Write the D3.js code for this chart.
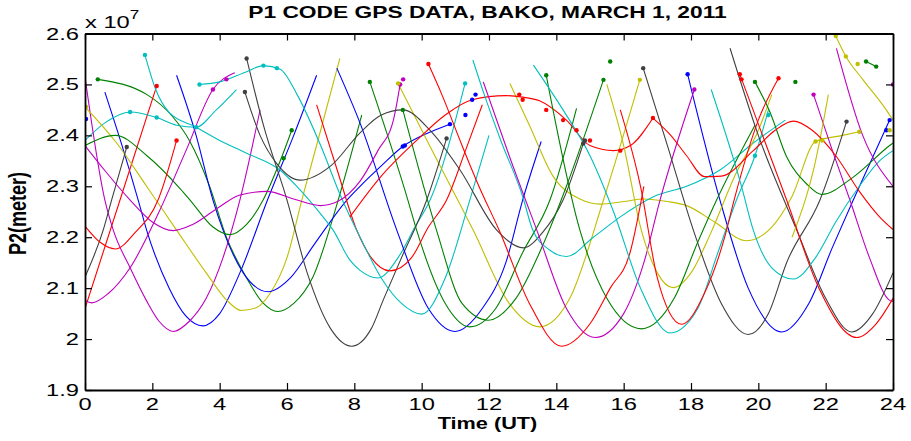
<!DOCTYPE html>
<html><head><meta charset="utf-8">
<script src="https://cdn.jsdelivr.net/npm/d3@7"></script>
<style>
body{margin:0;background:#fff}
svg{display:block}
text{font-family:"Liberation Sans",Arial,Helvetica,sans-serif;fill:#000}
</style>
</head><body>
<svg id="chart" width="911" height="441"></svg>
<script>
// ---- axis data ----
const xTicks = [0,2,4,6,8,10,12,14,16,18,20,22,24];
const yTicks = [1.9,2.0,2.1,2.2,2.3,2.4,2.5,2.6];
const yTickLabels = ["1.9","2","2.1","2.2","2.3","2.4","2.5","2.6"];
const titleText = "P1 CODE GPS DATA, BAKO, MARCH 1, 2011";
const xLabel = "Time (UT)";
const yLabel = "P2(meter)";

// MATLAB default line colours
const palette = {b:"#0000ff", g:"#008000", r:"#ff0000", c:"#00bfbf", m:"#bf00bf", y:"#bfbf00", k:"#404040"};

// ---- pass data: [time (UT hours), P2 (x 1e7 m)] ----
const magC = [[0,2.515],[0.59,2.273],[0.84,2.214],[1.34,2.14],[1.83,2.075],[2.2,2.035],[2.62,2.015],[3.1,2.035],[3.6,2.08],[4.1,2.16],[4.6,2.273],[5.2,2.45]];
const magB = [[0,2.076],[0.2,2.071],[0.7,2.09],[1.34,2.14],[2.2,2.25],[3.0,2.37],[3.8,2.49],[4.45,2.523]];
const magWave = [[0,2.38],[0.6,2.33],[1.34,2.273],[2.0,2.23],[2.62,2.213],[3.2,2.225],[4.0,2.26],[4.6,2.283],[5.4,2.29],[6.2,2.275],[7.0,2.262],[7.5,2.27],[8.17,2.31],[8.7,2.37],[9.16,2.43],[9.36,2.50]];
const redB = [[0,2.06],[1.04,2.273],[2.13,2.497]];
const redA = [[0,2.222],[0.45,2.19],[0.9,2.177],[1.5,2.21],[2.17,2.273],[2.72,2.39]];
const grayA = [[0,2.122],[0.54,2.214],[0.79,2.273],[1.24,2.377]];
const blueE = [[0.59,2.485],[1.1,2.38],[1.58,2.273],[1.83,2.214],[2.5,2.1],[3.0,2.045],[3.5,2.026],[4.0,2.05],[4.6,2.13],[5.42,2.273],[6.2,2.4],[6.88,2.518]];
const blueI = [[2.72,2.518],[3.3,2.4],[3.8,2.273],[4.1,2.214],[4.7,2.13],[5.44,2.093],[6.1,2.12],[6.8,2.185],[7.78,2.273],[8.17,2.30],[8.8,2.34],[9.44,2.378],[10.2,2.405],[10.84,2.422]];
const grayJ = [[4.8,2.551],[5.3,2.42],[6.0,2.273],[6.6,2.13],[7.3,2.02],[7.92,1.986],[8.5,2.02],[8.86,2.077],[9.37,2.155],[10.15,2.273],[10.74,2.394]];
const grayWave = [[4.75,2.485],[5.2,2.4],[5.69,2.345],[6.39,2.312],[7.3,2.34],[8.17,2.405],[8.8,2.44],[9.44,2.45],[10.25,2.41],[11.14,2.332],[12.23,2.214],[13.02,2.179],[13.6,2.21],[14.2,2.273],[14.8,2.384]];
const yellowF = [[0,2.456],[0.94,2.385],[1.83,2.30],[2.72,2.214],[3.6,2.13],[4.2,2.077],[4.65,2.056],[5.1,2.062],[5.5,2.09],[6.0,2.16],[6.44,2.273],[7.0,2.41],[7.57,2.551]];
const greenG = [[0,2.38],[0.9,2.40],[1.84,2.36],[2.83,2.295],[3.12,2.273],[3.8,2.22],[4.3,2.205],[4.8,2.225],[5.29,2.273],[5.8,2.35],[6.14,2.41]];
const greenH = [[0.38,2.51],[1.84,2.48],[2.6,2.437],[3.1,2.39],[3.7,2.3],[4.2,2.2],[4.8,2.12],[5.3,2.07],[5.72,2.054],[6.2,2.07],[6.77,2.122],[7.52,2.273],[8.22,2.44]];
const cyanWave1 = [[0,2.39],[0.6,2.425],[1.34,2.446],[2.13,2.435],[2.72,2.42],[3.3,2.416],[3.9,2.45],[4.5,2.49]];
const cyanWave2 = [[3.4,2.5],[4.0,2.505],[4.8,2.525],[5.3,2.537],[5.8,2.53],[6.3,2.48],[7.0,2.38],[7.6,2.28],[8.17,2.20],[8.8,2.12],[9.4,2.07],[10.0,2.049],[10.7,2.12],[11.43,2.273],[12.0,2.4]];
const cyanLong = [[1.78,2.558],[2.1,2.49],[2.5,2.445],[3.3,2.416],[4.0,2.39],[4.8,2.365],[5.79,2.332],[6.29,2.30],[7.07,2.24],[7.37,2.214],[7.87,2.155],[8.17,2.135],[8.71,2.12],[9.3,2.16],[9.8,2.22],[10.25,2.273],[11.29,2.502]];
const blueP = [[7.48,2.532],[8.17,2.424],[9.26,2.214],[10.2,2.06],[10.99,2.015],[11.8,2.06],[12.5,2.15],[13.0,2.273],[13.55,2.388]];
const greenQ1 = [[8.46,2.505],[9.59,2.273],[9.85,2.214],[10.7,2.07],[11.43,2.024],[12.2,2.06],[13.0,2.17],[13.81,2.273],[14.6,2.453]];
const greenQ2 = [[9.44,2.45],[10.44,2.214],[11.2,2.07],[11.98,2.037],[12.8,2.08],[13.7,2.2],[14.3,2.3],[15.4,2.509]];
const yellowT = [[9.3,2.502],[10.25,2.378],[11.53,2.214],[12.6,2.07],[13.51,2.024],[14.4,2.08],[15.4,2.273],[16.48,2.509]];
const redM = [[6.88,2.46],[7.5,2.33],[8.07,2.214],[8.5,2.16],[9.06,2.134],[9.7,2.16],[10.2,2.22],[10.74,2.273],[11.3,2.37],[11.8,2.46]];
const redHump = [[7.87,2.24],[8.8,2.32],[9.85,2.39],[10.7,2.44],[11.5,2.47],[12.5,2.478],[13.0,2.475],[13.5,2.468],[14.3,2.43],[15.0,2.38],[15.7,2.37],[16.2,2.38],[16.87,2.434]];
const redU = [[10.2,2.54],[10.6,2.48],[11.2,2.38],[11.7,2.3],[12.3,2.214],[13.2,2.07],[14.16,1.986],[15.0,2.03],[15.6,2.1],[16.19,2.17],[16.6,2.3]];
const magV = [[11.83,2.505],[12.6,2.36],[13.42,2.214],[14.3,2.06],[15.15,2.003],[16.0,2.05],[16.6,2.15],[17.08,2.273],[18.1,2.49]];
const yellowWave = [[12.62,2.502],[13.2,2.42],[13.9,2.32],[14.7,2.275],[15.3,2.265],[16.0,2.27],[16.6,2.275],[17.3,2.27],[17.87,2.262],[18.7,2.23],[19.65,2.193],[20.4,2.22],[21.0,2.28],[21.7,2.388],[22.5,2.40],[23.0,2.407]];
const greenX = [[13.7,2.518],[14.7,2.214],[15.5,2.08],[16.53,2.02],[17.5,2.08],[18.2,2.19],[18.76,2.273],[19.9,2.42]];
const cyanY = [[13.32,2.538],[14.2,2.45],[15.0,2.36],[15.7,2.25],[16.5,2.1],[17.38,2.012],[18.2,2.06],[18.8,2.17],[19.35,2.273],[19.9,2.36],[20.3,2.45]];
const cyanS = [[11.52,2.548],[11.88,2.476],[12.35,2.39],[13.0,2.28],[13.3,2.214],[13.8,2.175],[14.3,2.162],[15.1,2.2],[15.9,2.24],[16.9,2.28],[17.87,2.3],[18.86,2.332],[19.85,2.385],[20.8,2.43]];
const redZ = [[15.9,2.45],[16.5,2.3],[17.0,2.12],[17.72,2.029],[18.4,2.09],[19.0,2.2],[19.28,2.273],[20.0,2.43],[20.6,2.512]];
const yellowAA = [[15.5,2.5],[16.0,2.38],[16.5,2.22],[17.0,2.13],[17.47,2.101],[18.0,2.13],[18.6,2.21],[19.3,2.32],[20.0,2.41],[20.4,2.48]];
const grayCC = [[16.58,2.532],[17.3,2.38],[18.07,2.214],[18.9,2.07],[19.7,2.009],[20.3,2.05],[20.84,2.15],[21.83,2.273],[22.62,2.427]];
const blueDD = [[17.9,2.52],[18.86,2.273],[19.7,2.1],[20.69,2.014],[21.5,2.07],[22.2,2.18],[22.82,2.273],[23.9,2.43]];
const grayFF = [[19.16,2.571],[20.0,2.4],[21.14,2.214],[22.0,2.08],[22.77,2.014],[23.4,2.05],[24,2.13]];
const redGG = [[19.45,2.52],[20.84,2.273],[21.8,2.1],[22.92,2.003],[23.5,2.03],[24,2.08]];
const cyanEE = [[18.6,2.49],[19.5,2.3],[19.85,2.214],[20.4,2.14],[21.04,2.118],[21.7,2.16],[22.3,2.23],[23.0,2.3],[23.6,2.35],[24,2.37]];
const magR1 = [[21.64,2.48],[22.2,2.37],[22.72,2.273],[23.3,2.16],[23.9,2.076],[24,2.074]];
const magR2 = [[22.32,2.571],[23.1,2.4],[24,2.3]];
const yellowR1 = [[22.3,2.595],[22.6,2.555],[23.1,2.51],[23.8,2.45],[24,2.43]];
const yellowR2 = [[21.0,2.2],[21.7,2.35],[22.08,2.48]];
const greenWaveR = [[19.9,2.505],[20.35,2.445],[20.84,2.358],[21.43,2.305],[21.88,2.284],[22.82,2.318],[23.9,2.38],[24,2.385]];
const redWave2 = [[16.87,2.434],[17.4,2.40],[17.87,2.36],[18.4,2.319],[18.9,2.32],[19.85,2.37],[20.5,2.41],[21.04,2.428],[21.6,2.41],[22.3,2.36],[23.0,2.29],[23.6,2.24],[24,2.215]];
const greenShort = [[23.2,2.545],[23.5,2.535]];

const passes = [
  ["b",blueE],["g",greenH],["r",redB],["c",cyanWave1],["m",magC],["y",yellowF],["k",grayA],
  ["b",blueI],["g",greenG],["r",redA],["c",cyanLong],["m",magB],["y",yellowT],["k",grayJ],
  ["b",blueP],["g",greenQ1],["r",redM],["c",cyanWave2],["m",magWave],["y",yellowWave],["k",grayWave],
  ["b",blueDD],["g",greenQ2],["r",redHump],["c",cyanS],["m",magV],["y",yellowAA],["k",grayCC],
  ["g",greenX],["r",redU],["c",cyanY],["m",magR1],["y",yellowR1],["k",grayFF],
  ["g",greenWaveR],["r",redZ],["c",cyanEE],["m",magR2],["y",yellowR2],
  ["r",redGG],["r",redWave2],["g",greenShort]
];

// marker dots [time, value, colour]
const dots = [
  [0.38,2.51,"g"],[0.03,2.456,"y"],[0.03,2.432,"b"],[1.78,2.558,"c"],[2.13,2.497,"r"],[2.72,2.39,"r"],
  [1.24,2.377,"k"],[1.34,2.446,"c"],[2.13,2.435,"c"],[3.3,2.416,"c"],[3.8,2.49,"m"],[4.2,2.51,"m"],
  [3.4,2.5,"c"],[5.3,2.537,"c"],[5.7,2.532,"c"],[4.8,2.551,"k"],[4.75,2.485,"k"],[6.14,2.41,"g"],
  [5.9,2.355,"g"],[9.36,2.5,"m"],[9.45,2.51,"m"],[9.3,2.502,"y"],[8.46,2.505,"g"],[9.44,2.45,"g"],
  [9.44,2.378,"b"],[9.5,2.38,"b"],[10.84,2.422,"b"],[10.74,2.394,"k"],[11.29,2.502,"c"],[11.5,2.47,"b"],
  [11.6,2.48,"b"],[11.3,2.44,"b"],[10.2,2.54,"r"],[12.9,2.48,"r"],[13.0,2.47,"r"],[13.7,2.45,"r"],
  [14.2,2.43,"r"],[14.6,2.41,"r"],[15.0,2.39,"r"],[15.9,2.37,"r"],[13.7,2.518,"g"],[15.4,2.509,"g"],
  [15.6,2.545,"g"],[14.8,2.384,"k"],[14.85,2.39,"k"],[16.48,2.509,"y"],[16.58,2.532,"k"],[16.87,2.434,"r"],
  [17.9,2.52,"b"],[18.1,2.49,"m"],[19.45,2.52,"r"],[19.5,2.51,"r"],[19.9,2.505,"g"],[20.6,2.512,"r"],
  [21.1,2.505,"g"],[21.64,2.48,"m"],[21.7,2.388,"y"],[21.9,2.39,"y"],[22.62,2.427,"k"],[23.0,2.407,"y"],
  [23.2,2.545,"g"],[23.5,2.535,"g"],[22.6,2.555,"y"],[22.3,2.595,"y"],[23.9,2.43,"b"],[23.8,2.41,"b"],
  [24,2.5,"m"],[19.9,2.36,"c"],[20.3,2.44,"c"],[23.9,2.41,"y"],[22.95,2.54,"y"]
];

// ---- drawing ----
const mLeft = 85, mRight = 893, mTop = 33.5, mBottom = 390;
const svg = d3.select("#chart");
const x = d3.scaleLinear().domain([0,24]).range([mLeft,mRight]);
const y = d3.scaleLinear().domain([1.9,2.6]).range([mBottom,mTop]);
const SX = 1.42; // horizontal stretch of the original's lettering

svg.append("defs").append("clipPath").attr("id","clip")
  .append("rect").attr("x",mLeft).attr("y",mTop).attr("width",mRight-mLeft).attr("height",mBottom-mTop);

const plot = svg.append("g").attr("clip-path","url(#clip)");
const line = d3.line().x(d=>x(d[0])).y(d=>y(d[1])).curve(d3.curveMonotoneX);

plot.selectAll("path.pass").data(passes).join("path")
  .attr("class","pass")
  .attr("d",d=>line(d[1]))
  .attr("fill","none")
  .attr("stroke",d=>palette[d[0]])
  .attr("stroke-width",1.1);

plot.selectAll("circle.dot").data(dots).join("circle")
  .attr("class","dot")
  .attr("cx",d=>x(d[0])).attr("cy",d=>y(d[1])).attr("r",2.2)
  .attr("fill",d=>palette[d[2]]);

// axes (inward ticks on all four sides)
const tk = 7;
const axB = svg.append("g").attr("transform",`translate(0,${mBottom})`)
  .call(d3.axisBottom(x).tickValues(xTicks).tickSize(-tk).tickSizeOuter(0).tickFormat(""));
const axT = svg.append("g").attr("transform",`translate(0,${mTop})`)
  .call(d3.axisTop(x).tickValues(xTicks).tickSize(-tk).tickSizeOuter(0).tickFormat(""));
const axL = svg.append("g").attr("transform",`translate(${mLeft},0)`)
  .call(d3.axisLeft(y).tickValues(yTicks).tickSize(-tk).tickSizeOuter(0).tickFormat(""));
const axR = svg.append("g").attr("transform",`translate(${mRight},0)`)
  .call(d3.axisRight(y).tickValues(yTicks).tickSize(-tk).tickSizeOuter(0).tickFormat(""));
[axB,axT,axL,axR].forEach(a=>{
  a.selectAll(".domain").attr("stroke","#000").attr("stroke-width",1.8);
  a.selectAll(".tick line").attr("stroke","#000").attr("stroke-width",1.2);
});

// tick labels (stretched horizontally like the original)
svg.append("g").selectAll("text").data(xTicks).join("text")
  .attr("transform",d=>`translate(${x(d)},410) scale(${SX},1)`)
  .attr("text-anchor","middle").attr("font-size",16.7).text(d=>d);
svg.append("g").selectAll("text").data(yTicks).join("text")
  .attr("transform",(d,i)=>`translate(79,${y(d)+6}) scale(${SX},1)`)
  .attr("text-anchor","end").attr("font-size",16.7).text((d,i)=>yTickLabels[i]);

// exponent
const ex = svg.append("text").attr("transform",`translate(85,28) scale(${SX},1)`).attr("font-size",16.7);
ex.append("tspan").text("x 10");
ex.append("tspan").attr("font-size",12).attr("dy",-9).text("7");

// title and axis labels
svg.append("text").attr("transform",`translate(487.5,18.3) scale(1.38,1)`)
  .attr("text-anchor","middle").attr("font-size",16.5).attr("font-weight","bold").text(titleText);
svg.append("text").attr("transform",`translate(487.5,429.3) scale(1.3,1)`)
  .attr("text-anchor","middle").attr("font-size",16.7).attr("font-weight","bold").text(xLabel);
svg.append("text").attr("transform",`translate(25.5,213.5) rotate(-90) scale(1,1.3)`)
  .attr("text-anchor","middle").attr("font-size",18).attr("font-weight","bold").text(yLabel);
</script>
</body></html>
